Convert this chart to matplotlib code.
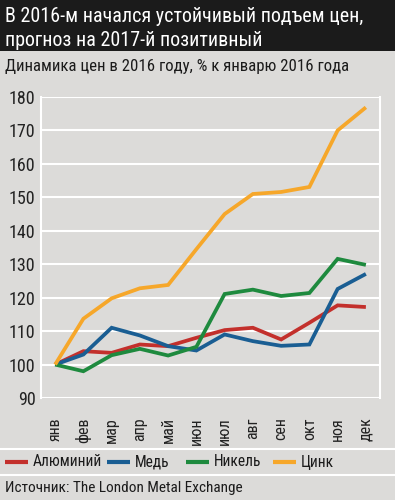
import matplotlib.pyplot as plt
from matplotlib.lines import Line2D

# data
months = ['янв', 'фев', 'мар', 'апр', 'май', 'июн', 'июл', 'авг', 'сен', 'окт', 'ноя', 'дек']
aluminium = [100, 104, 103.5, 106, 105.5, 108, 110.3, 111, 107.5, 112.5, 117.7, 117.2]
copper = [100, 103, 111, 108.7, 105.5, 104.2, 109, 107, 105.6, 106, 122.6, 127.1]
nickel = [100, 98, 102.8, 104.7, 102.7, 105.3, 121.1, 122.4, 120.5, 121.4, 131.6, 129.8]
zinc = [100, 113.7, 119.8, 122.8, 123.8, 134.5, 145, 151, 151.6, 153.1, 170, 176.9]
yticks = [90, 100, 110, 120, 130, 140, 150, 160, 170, 180]

series_names = ['Алюминий', 'Медь', 'Никель', 'Цинк']
colors = ['#c3302c', '#1a5e93', '#1e8a3e', '#f6a72a']
# legend entry start (px from left), as in the reference
legend_x = [5, 107, 186, 273]

bg = '#dcdbd9'
plt.rcParams['font.family'] = ['Roboto Condensed', 'DejaVu Sans']

fig = plt.figure(figsize=(3.95, 5.0), dpi=100, facecolor=bg)
W, H = 395, 500

# title band
fig.patches.append(plt.Rectangle((0, 1 - 51 / H), 1, 51 / H, transform=fig.transFigure,
                                 facecolor='#1b1b1b', edgecolor='none'))
fig.text(0.012, 1 - 17 / H, 'В 2016-м начался устойчивый подъем цен,', color='white',
         fontsize=14.4, va='center', ha='left')
fig.text(0.012, 1 - 41 / H, 'прогноз на 2017-й позитивный', color='white',
         fontsize=14.4, va='center', ha='left')
fig.text(0.012, 1 - 66 / H, 'Динамика цен в 2016 году, % к январю 2016 года',
         color='#1b1b1b', fontsize=12.1, va='center', ha='left')

ax = fig.add_axes([41 / W, 1 - 398 / H, 339 / W, 301 / H])
ax.set_facecolor(bg)
x = range(len(months))
for vals, c in zip([aluminium, copper, nickel, zinc], colors):
    ax.plot(x, vals, color=c, lw=2.7, solid_capstyle='butt', solid_joinstyle='miter')

ax.set_xlim(-0.5, 11.5)
ax.set_ylim(90, 180)
ax.set_yticks(yticks)
ax.set_yticklabels([str(t) for t in yticks], fontsize=13, color='#222222')
ax.set_xticks(list(x))
ax.set_xticklabels(months, rotation=90, fontsize=11.5, color='#222222')
ax.tick_params(length=0, pad=4)
ax.tick_params(axis='x', pad=14)
ax.grid(axis='y', color='white', lw=1.5)
ax.set_axisbelow(True)
for s in ['top', 'bottom']:
    ax.spines[s].set_visible(False)
for s in ['left', 'right']:
    ax.spines[s].set_color('white')
    ax.spines[s].set_linewidth(1.5)

# separators
for yy in [449, 475]:
    fig.add_artist(Line2D([0, 1], [1 - yy / H] * 2, color='white', lw=1.5))

# legend drawn by hand so the entries sit where they do in the reference
ly = 1 - 462 / H
for lx, name, c in zip(legend_x, series_names, colors):
    fig.add_artist(Line2D([lx / W, (lx + 23) / W], [ly, ly], color=c, lw=3,
                          solid_capstyle='butt'))
    fig.text((lx + 28) / W, ly, name, fontsize=11.2, color='#1b1b1b', va='center', ha='left')

fig.text(0.012, 1 - 488 / H, 'Источник: The London Metal Exchange', fontsize=11,
         color='#1b1b1b', va='center', ha='left')

fig.savefig('out.png', dpi=100, facecolor=bg)
